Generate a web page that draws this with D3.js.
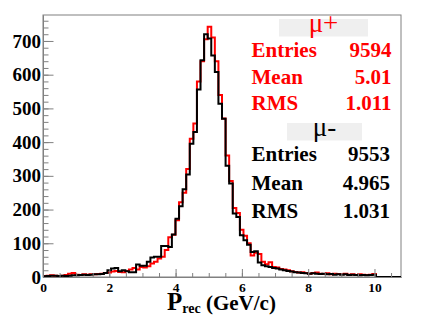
<!DOCTYPE html>
<meta charset="utf-8">

<!-- Load d3.js -->
<script src="https://d3js.org/d3.v7.min.js"></script>

<style>
  body { margin: 0; background: #fff; }
  svg text { font-family: "Liberation Serif", "Times New Roman", serif; font-weight: bold; }
</style>

<!-- Create a div where the graph will take place -->
<div id="my_dataviz"></div>

<script>

// histogram binning: 100 bins from 0 to 10.8 GeV/c
var histMin = 0, histMax = 10.8, nBins = 100;

// mu+ (red) bin contents, bin 0 .. 99
var muPlus = [
  3, 4, 5, 4, 3, 4, 6, 10, 12, 7,
  6, 8, 7, 8, 8, 9, 10, 12, 13, 16,
  18, 15, 14, 18, 22, 27, 22, 30, 28, 32,
  40, 45, 55, 60, 80, 118, 125, 168, 222, 250,
  320, 410, 455, 580, 640, 705, 742, 710, 640, 540,
  470, 360, 285, 205, 190, 140, 122, 100, 64, 72,
  68, 45, 38, 44, 30, 28, 24, 22, 20, 17,
  15, 13, 14, 12, 10, 12, 13, 10, 9, 11,
  8, 10, 9, 8, 10, 7, 8, 6, 8, 7,
  6, 7, 9, 0, 0, 0, 0, 0, 0, 0
];

// mu- (black) bin contents, bin 0 .. 99
var muMinus = [
  2, 3, 4, 4, 3, 4, 3, 4, 5, 5,
  6, 7, 6, 7, 8, 8, 9, 12, 20, 25,
  27, 17, 20, 17, 14, 14, 37, 33, 33, 45,
  58, 60, 60, 92, 92, 89, 126, 173, 210, 260,
  304, 395, 430, 556, 643, 720, 707, 657, 608, 514,
  469, 330, 277, 188, 178, 124, 109, 96, 74, 76,
  43, 35, 32, 30, 27, 25, 22, 20, 18, 16,
  14, 13, 12, 11, 10, 11, 10, 9, 10, 8,
  9, 7, 8, 7, 8, 6, 7, 6, 5, 6,
  5, 6, 7, 0, 0, 0, 0, 0, 0, 0
];

var xTicks = [0, 2, 4, 6, 8, 10];
var yTicks = [0, 100, 200, 300, 400, 500, 600, 700];
var yMax = 777;

// stat boxes
var statLabels = ["Entries", "Mean", "RMS"];
var plusStats = ["9594", "5.01", "1.011"];
var minusStats = ["9553", "4.965", "1.031"];

var W = 441, H = 315;
var frame = {left: 43, top: 15, right: 401, bottom: 277};

var svg = d3.select("#my_dataviz")
  .append("svg")
    .attr("width", W)
    .attr("height", H);

var x = d3.scaleLinear().domain([histMin, histMax]).range([frame.left, frame.right]);
var y = d3.scaleLinear().domain([0, yMax]).range([frame.bottom, frame.top]);

// frame
svg.append("rect")
  .attr("x", frame.left).attr("y", frame.top)
  .attr("width", frame.right - frame.left)
  .attr("height", frame.bottom - frame.top)
  .attr("fill", "none")
  .attr("stroke", "#808080")
  .attr("stroke-width", 1);

svg.append("clipPath").attr("id", "clip")
  .append("rect")
    .attr("x", frame.left).attr("y", frame.top - 2)
    .attr("width", frame.right - frame.left)
    .attr("height", frame.bottom - frame.top + 2);

// stat boxes (drawn under the histograms)
function statBox(title, boxX, boxW, boxY, titleY, firstRow, rowStep, rightX, values, colour) {
  svg.append("rect")
    .attr("x", boxX).attr("y", boxY)
    .attr("width", boxW).attr("height", 17.5)
    .attr("fill", "#efefef");
  svg.append("text")
    .attr("x", boxX + boxW / 2).attr("y", titleY)
    .attr("text-anchor", "middle")
    .style("font-size", "27px")
    .style("font-weight", "normal")
    .attr("fill", colour)
    .text(title);
  statLabels.forEach(function(lab, i) {
    svg.append("text")
      .attr("x", 251.5).attr("y", firstRow + i * rowStep)
      .style("font-size", "21px")
      .attr("fill", colour)
      .text(lab);
    svg.append("text")
      .attr("x", rightX).attr("y", firstRow + i * rowStep)
      .attr("text-anchor", "end")
      .style("font-size", "21px")
      .attr("fill", colour)
      .text(values[i]);
  });
}
statBox("\u03bc+", 279, 89, 19, 32, 57, 26.5, 391.5, plusStats, "#ff0000");
statBox("\u03bc-", 287, 75, 123, 136, 161, 28.5, 390, minusStats, "#000000");

// histograms as step lines
function histPoints(counts) {
  var w = (histMax - histMin) / nBins;
  var pts = counts.map(function(c, i) { return [histMin + i * w, c]; });
  pts.push([histMax, counts[counts.length - 1]]);
  return pts;
}
var stepLine = d3.line()
  .x(function(d) { return x(d[0]); })
  .y(function(d) { return y(d[1]); })
  .curve(d3.curveStepAfter);

[[muPlus, "#ff0000"], [muMinus, "#000000"]].forEach(function(h) {
  svg.append("path")
    .datum(histPoints(h[0]))
    .attr("clip-path", "url(#clip)")
    .attr("fill", "none")
    .attr("stroke", h[1])
    .attr("stroke-width", 2)
    .attr("d", stepLine);
});

// X axis: major + minor ticks pointing inward
var gx = svg.append("g")
  .attr("transform", "translate(0," + frame.bottom + ")")
  .attr("color", "#808080")
  .call(d3.axisBottom(x).tickValues(xTicks).tickSize(-8).tickSizeOuter(0).tickPadding(5).tickFormat(d3.format("d")));
gx.selectAll("text").attr("fill", "#000").style("font-size", "13.5px");
svg.append("g")
  .attr("transform", "translate(0," + frame.bottom + ")")
  .attr("color", "#808080")
  .call(d3.axisBottom(x).tickValues(d3.range(0, histMax, 0.5)).tickSize(-4).tickSizeOuter(0).tickFormat(""));

// Y axis
var gy = svg.append("g")
  .attr("transform", "translate(" + frame.left + ",0)")
  .attr("color", "#808080")
  .call(d3.axisLeft(y).tickValues(yTicks).tickSize(-10.5).tickSizeOuter(0).tickPadding(2).tickFormat(d3.format("d")));
gy.selectAll("text").attr("fill", "#000").style("font-size", "19px");
svg.append("g")
  .attr("transform", "translate(" + frame.left + ",0)")
  .attr("color", "#808080")
  .call(d3.axisLeft(y).tickValues(d3.range(0, yMax, 20)).tickSize(-5.5).tickSizeOuter(0).tickFormat(""));

// X axis title
var title = svg.append("text")
  .attr("x", 167).attr("y", 309.5)
  .attr("fill", "#000");
title.append("tspan").style("font-size", "25px").text("P");
title.append("tspan").style("font-size", "14px").attr("dy", 3.5).text("rec");
title.append("tspan").style("font-size", "21px").attr("dy", -3.5).text(" (GeV/c)");

</script>
